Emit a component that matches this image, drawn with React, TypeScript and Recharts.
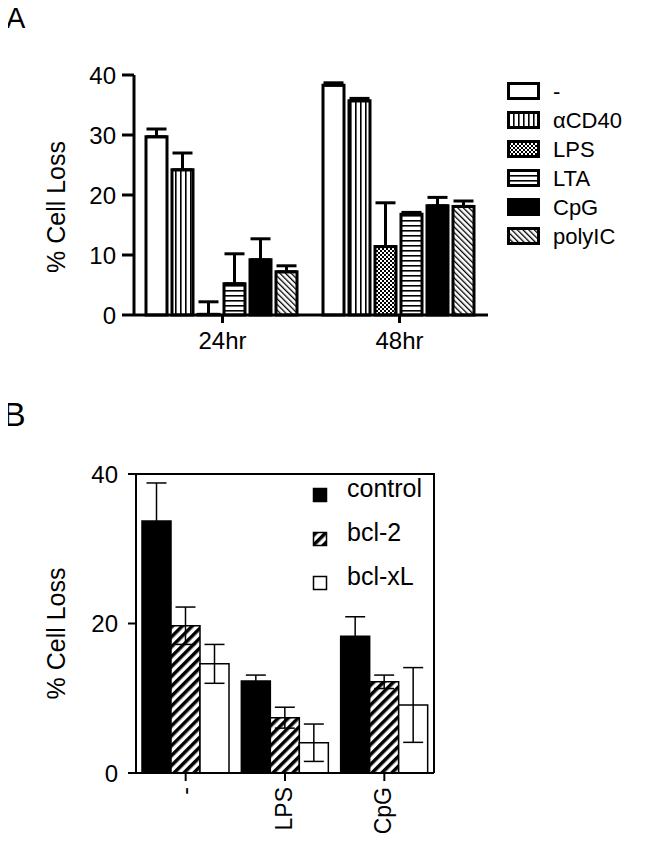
import React from 'react';
import { BarChart, Bar, XAxis, YAxis, ErrorBar, Legend } from 'recharts';

const FONT = '"Liberation Sans", Arial, Helvetica, sans-serif';

// Panel A: cell loss at 24hr / 48hr for each stimulus
const TIMES = ['24hr', '48hr'];
const NONE_A = [29.7, 38.3];
const NONE_A_ERR = [1.3, 0.4];
const CD40 = [24.2, 35.7];
const CD40_ERR = [2.8, 0.4];
const LPS_A = [0.1, 11.4];
const LPS_A_ERR = [2.1, 7.3];
const LTA = [5.2, 16.8];
const LTA_ERR = [5.0, 0.3];
const CPG_A = [9.2, 18.2];
const CPG_A_ERR = [3.5, 1.4];
const POLYIC = [7.2, 18.1];
const POLYIC_ERR = [1.0, 0.9];
const TICKS_A = [0, 10, 20, 30, 40];

// Panel B: control vs bcl-2 vs bcl-xL
const STIMULI = ['-', 'LPS', 'CpG'];
const CONTROL = [33.7, 12.3, 18.3];
const CONTROL_ERR = [5.1, 0.8, 2.6];
const BCL2 = [19.7, 7.4, 12.2];
const BCL2_ERR = [2.5, 1.4, 0.9];
const BCLXL = [14.6, 4.05, 9.1];
const BCLXL_ERR = [2.6, 2.5, 5.0];
const TICKS_B = [0, 20, 40];

const seriesA = [
  { key: 'none', name: '-', values: NONE_A, err: NONE_A_ERR, fill: '#fff' },
  { key: 'cd40', name: '\u03b1CD40', values: CD40, err: CD40_ERR, fill: 'url(#vstripe)' },
  { key: 'lps', name: 'LPS', values: LPS_A, err: LPS_A_ERR, fill: 'url(#checker)' },
  { key: 'lta', name: 'LTA', values: LTA, err: LTA_ERR, fill: 'url(#hstripe)' },
  { key: 'cpg', name: 'CpG', values: CPG_A, err: CPG_A_ERR, fill: '#000' },
  { key: 'polyic', name: 'polyIC', values: POLYIC, err: POLYIC_ERR, fill: 'url(#backdiag)' },
];

const seriesB = [
  { key: 'control', name: 'control', values: CONTROL, err: CONTROL_ERR, fill: '#000' },
  { key: 'bcl2', name: 'bcl-2', values: BCL2, err: BCL2_ERR, fill: 'url(#fwddiag)' },
  { key: 'bclxl', name: 'bcl-xL', values: BCLXL, err: BCLXL_ERR, fill: '#fff' },
];

// error bars in A only go up
const dataA = TIMES.map((t, i) => {
  const row: any = { time: t };
  seriesA.forEach((s) => {
    row[s.key] = s.values[i];
    row[s.key + 'Err'] = [0, s.err[i]];
  });
  return row;
});

const dataB = STIMULI.map((t, i) => {
  const row: any = { stim: t };
  seriesB.forEach((s) => {
    row[s.key] = s.values[i];
    row[s.key + 'Err'] = s.err[i];
  });
  return row;
});

// panel B layout, also used for the box drawn around its plot area
const B_TOP = 400;
const B_W = 646;
const B_H = 442;
const B_MARGIN_TOP = 74;
const B_MARGIN_RIGHT = 212;
const B_YAXIS_W = 136;
const B_XAXIS_H = 69;

function Patterns() {
  return (
    <svg width={0} height={0} style={{ position: 'absolute' }}>
      <defs>
        <pattern id="vstripe" width={5} height={5} patternUnits="userSpaceOnUse">
          <rect width={5} height={5} fill="#fff" />
          <rect x={0} width={1.6} height={5} fill="#000" />
        </pattern>
        <pattern id="hstripe" width={5} height={5} patternUnits="userSpaceOnUse">
          <rect width={5} height={5} fill="#fff" />
          <rect y={0} width={5} height={1.6} fill="#000" />
        </pattern>
        <pattern id="checker" width={4} height={4} patternUnits="userSpaceOnUse">
          <rect width={4} height={4} fill="#000" />
          <rect x={0} y={0} width={2} height={2} fill="#fff" />
          <rect x={2} y={2} width={2} height={2} fill="#fff" />
        </pattern>
        <pattern id="backdiag" width={4} height={4} patternUnits="userSpaceOnUse" patternTransform="rotate(-45)">
          <rect width={4} height={4} fill="#fff" />
          <rect x={0} width={1.3} height={4} fill="#000" />
        </pattern>
        <pattern id="fwddiag" width={7} height={7} patternUnits="userSpaceOnUse" patternTransform="rotate(45)">
          <rect width={7} height={7} fill="#fff" />
          <rect x={0} width={3.5} height={7} fill="#000" />
        </pattern>
      </defs>
    </svg>
  );
}

const YTitle = ({ viewBox, shift }: any) => {
  const cx = viewBox.x + 65;
  const cy = viewBox.y + viewBox.height / 2 + shift;
  return (
    <text x={cx} y={cy} transform={`rotate(-90, ${cx}, ${cy})`} textAnchor="middle" fontSize={25} fill="#000" fontFamily={FONT}>
      % Cell Loss
    </text>
  );
};

const RotTick = ({ x, y, payload }: any) => (
  <text x={x} y={y} transform={`rotate(-90, ${x}, ${y})`} textAnchor="end" dy="0.3em" fontSize={23} fill="#000" fontFamily={FONT}>
    {payload.value}
  </text>
);

const LegendA = () => (
  <svg width={140} height={180}>
    {seriesA.map((s, i) => (
      <g key={s.key}>
        <rect x={5.5} y={8.5 + i * 29} width={30} height={15} fill={s.fill} stroke="#000" strokeWidth={3} />
        <text x={50} y={16 + i * 29} dy="0.35em" fontSize={22} fill="#000" fontFamily={FONT}>
          {s.name}
        </text>
      </g>
    ))}
  </svg>
);

const LegendB = () => (
  <svg width={140} height={130}>
    {seriesB.map((s, i) => (
      <g key={s.key}>
        <rect x={7.5} y={17.5 + i * 44} width={13} height={13} fill={s.fill} stroke="#000" strokeWidth={1.5} />
        <text x={41} y={26 + i * 44} fontSize={25} fill="#000" fontFamily={FONT}>
          {s.name}
        </text>
      </g>
    ))}
  </svg>
);

// top and right edges of the box around B's plot area, from B's layout numbers
function FrameB() {
  const x0 = B_YAXIS_W;
  const y0 = B_TOP + B_MARGIN_TOP;
  const x1 = B_W - B_MARGIN_RIGHT;
  const y1 = B_TOP + B_H - B_XAXIS_H;
  return (
    <svg
      width={646}
      height={842}
      style={{ position: 'absolute', left: 0, top: 0, zIndex: 5, pointerEvents: 'none' }}
    >
      <path d={`M${x0},${y0}H${x1}V${y1}`} fill="none" stroke="#000" strokeWidth={2} />
    </svg>
  );
}

export default function App() {
  const tick = { fill: '#000', fontSize: 24, fontFamily: FONT };
  return (
    <div style={{ position: 'relative', width: 646, height: 842, margin: -8, background: '#fff', fontFamily: FONT }}>
      <Patterns />

      <div style={{ position: 'absolute', left: 0, top: 0 }}>
        <BarChart
          width={646}
          height={370}
          data={dataA}
          margin={{ top: 75, right: 158, left: 0, bottom: 0 }}
          barCategoryGap={12}
          barGap={5}
        >
          <XAxis
            dataKey="time"
            height={55}
            tickSize={8}
            tickMargin={9}
            stroke="#000"
            axisLine={{ stroke: '#000', strokeWidth: 3 }}
            tickLine={{ stroke: '#000', strokeWidth: 3 }}
            tick={tick}
          />
          <YAxis
            width={134}
            domain={[0, 40]}
            ticks={TICKS_A}
            tickSize={12}
            tickMargin={6}
            stroke="#000"
            axisLine={{ stroke: '#000', strokeWidth: 3 }}
            tickLine={{ stroke: '#000', strokeWidth: 3 }}
            tick={tick}
            label={<YTitle shift={12} />}
          />
          <Legend
            layout="horizontal"
            verticalAlign="middle"
            align="center"
            content={<LegendA />}
            wrapperStyle={{ position: 'absolute', left: 503, top: 75, width: 140, height: 180 }}
          />
          {seriesA.map((s) => (
            <Bar key={s.key} dataKey={s.key} name={s.name} fill={s.fill} stroke="#000" strokeWidth={3} isAnimationActive={false}>
              <ErrorBar dataKey={s.key + 'Err'} width={10} stroke="#000" strokeWidth={3} direction="y" />
            </Bar>
          ))}
        </BarChart>
      </div>

      <div style={{ position: 'absolute', left: 0, top: B_TOP }}>
        <BarChart
          width={B_W}
          height={B_H}
          data={dataB}
          margin={{ top: B_MARGIN_TOP, right: B_MARGIN_RIGHT, left: 0, bottom: 0 }}
          barCategoryGap={6}
          barGap={0}
        >
          <XAxis
            dataKey="stim"
            height={B_XAXIS_H}
            interval={0}
            tickSize={8}
            tickMargin={6}
            stroke="#000"
            axisLine={{ stroke: '#000', strokeWidth: 2 }}
            tickLine={{ stroke: '#000', strokeWidth: 2 }}
            tick={<RotTick />}
          />
          <YAxis
            width={B_YAXIS_W}
            domain={[0, 40]}
            ticks={TICKS_B}
            tickSize={8}
            tickMargin={10}
            stroke="#000"
            axisLine={{ stroke: '#000', strokeWidth: 2 }}
            tickLine={{ stroke: '#000', strokeWidth: 2 }}
            tick={tick}
            label={<YTitle shift={10} />}
          />
          <Legend
            layout="horizontal"
            verticalAlign="middle"
            align="center"
            content={<LegendB />}
            wrapperStyle={{ position: 'absolute', left: 306, top: 71, width: 140, height: 130 }}
          />
          {seriesB.map((s) => (
            <Bar key={s.key} dataKey={s.key} name={s.name} fill={s.fill} stroke="#000" strokeWidth={1.5} isAnimationActive={false}>
              <ErrorBar dataKey={s.key + 'Err'} width={10} stroke="#000" strokeWidth={1.5} direction="y" />
            </Bar>
          ))}
        </BarChart>
      </div>

      <FrameB />
      <div style={{ position: 'absolute', left: 6, top: 2, fontSize: 29, zIndex: 6 }}>A</div>
      <div style={{ position: 'absolute', left: 3, top: 395, fontSize: 34, zIndex: 6 }}>B</div>
    </div>
  );
}
